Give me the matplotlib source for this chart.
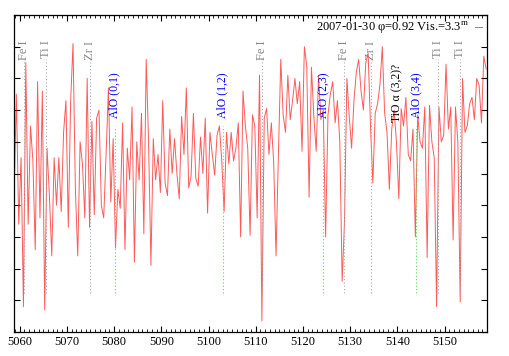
import numpy as np
import matplotlib
matplotlib.use('Agg')
import matplotlib.pyplot as plt
from matplotlib.ticker import MultipleLocator, NullFormatter

plt.rcParams['font.family'] = ['Liberation Serif', 'DejaVu Serif']
plt.rcParams['mathtext.fontset'] = 'custom'
plt.rcParams['mathtext.rm'] = 'Liberation Serif'

# Spectrum (relative flux, arbitrary units), 0.5 A sampling
wave_start = 5058.8
wave_step = 0.5
flux = [
    4.1, 7.5, 3.4, 5.5, 0.8, 8.5, 3.4, 6.5, 5.4, 2.6,
    7.9, 3.6, 7.6, 0.7, 5.8, 4.3, 2.4, 5.5, 4.0, 5.5,
    3.8, 6.3, 7.3, 3.3, 7.3, 9.1, 4.5, 2.4, 6.0, 5.3,
    3.6, 8.0, 3.3, 6.65, 3.7, 6.75, 7.0, 4.0, 3.6, 5.6,
    7.7, 4.1, 6.1, 2.65, 4.5, 3.9, 6.6, 2.6, 5.8, 4.8,
    7.1, 2.2, 6.0, 4.8, 6.9, 3.1, 8.6, 6.0, 2.1, 6.1,
    4.8, 5.6, 4.4, 7.3, 4.7, 4.3, 6.4, 5.0, 6.1, 5.0,
    4.2, 6.8, 5.6, 7.7, 4.55, 4.9, 6.9, 4.85, 4.6, 6.15,
    5.0, 6.75, 3.75, 6.3, 5.6, 4.95, 6.2, 6.5, 5.4, 3.8,
    6.3, 5.3, 6.3, 5.4, 5.8, 6.6, 3.0, 7.6, 6.5, 5.8,
    3.05, 6.85, 6.5, 3.6, 8.1, 0.35, 6.75, 7.05, 5.6, 6.6,
    5.35, 2.4, 5.6, 8.6, 6.85, 6.3, 8.1, 6.7, 7.3, 8.0,
    7.2, 7.9, 5.7, 9.0, 8.4, 4.25, 8.35, 6.8, 5.7, 8.1,
    6.7, 7.0, 3.0, 6.85, 7.5, 7.9, 6.6, 7.3, 6.0, 1.6,
    3.5, 8.0, 6.8, 5.8, 7.3, 8.2, 8.6, 7.6, 7.0, 8.5,
    8.8, 6.5, 4.7, 6.9, 7.2, 7.8, 9.0, 6.9, 6.3, 4.5,
    6.4, 7.0, 6.0, 4.2, 7.05, 6.5, 7.4, 5.6, 5.4, 6.4,
    3.0, 6.85, 6.0, 5.8, 7.1, 2.35, 7.15, 6.0, 5.5, 0.8,
    7.1, 6.0, 6.2, 8.45, 6.4, 7.1, 2.9, 7.1, 6.0, 0.95,
    8.0, 6.3, 6.5, 7.2, 7.4, 6.7, 8.0, 7.8, 6.6, 8.7,
    8.3,
]
wave = wave_start + wave_step * np.arange(len(flux))

# line identifications
atom_waves = [5060.9, 5065.5, 5074.9, 5111.3, 5128.7, 5134.4, 5148.5, 5153.2]
atom_names = ['Fe I', 'Ti I', 'Zr I', 'Fe I', 'Fe I', 'Zr I', 'Ti I', 'Ti I']
alo_waves = [5080.1, 5103.0, 5124.3, 5143.9]
alo_names = ['AlO (0,1)', 'AlO (1,2)', 'AlO (2,3)', 'AlO (3,4)']
tio_wave = 5140.0
tio_name = 'TiO α (3,2)?'

fig = plt.figure(figsize=(5.09, 3.56), dpi=100)
ax = fig.add_axes([0.0275, 0.0674, 0.9295, 0.8904])

ax.plot(wave, flux, color='#ff0000', lw=0.7, alpha=0.65,
        label='2007-01-30 φ=0.92 Vis.=3.3$^{\\rm m}$')

for w, name in zip(atom_waves, atom_names):
    ax.plot([w, w], [1.23, 8.6], color='#aaaaaa', lw=0.8, ls=(0, (1, 2)))
    ax.text(w, 9.2, name, rotation=90, ha='center', va='top',
            color='#888888', fontsize=9)

for w, name in zip(alo_waves, alo_names):
    ax.plot([w, w], [1.23, 6.5], color='#55dd55', lw=0.8, ls=(0, (1, 2)))
    ax.text(w, 8.2, name, rotation=90, ha='center', va='top',
            color='#0000ff', fontsize=8.5)

ax.text(tio_wave, 8.45, tio_name, rotation=90, ha='center', va='top',
        color='black', fontsize=8.5)

ax.set_xlim(5058.8, 5159.0)
ax.set_ylim(0, 10)
ax.xaxis.set_major_locator(MultipleLocator(10))
ax.xaxis.set_minor_locator(MultipleLocator(1))
ax.yaxis.set_major_locator(MultipleLocator(1))
ax.yaxis.set_major_formatter(NullFormatter())
ax.tick_params(which='both', direction='in', top=True, right=True, labelsize=9, pad=3)
ax.tick_params(which='major', length=4, width=0.8)
ax.tick_params(which='minor', length=2, width=0.6)
for s in ax.spines.values():
    s.set_linewidth(0.9)

ax.legend(loc='upper right', frameon=False, markerfirst=False, handlelength=0.6,
          handletextpad=0.5, fontsize=9, borderaxespad=0.2, borderpad=0.2)

fig.savefig('out.png', dpi=100)
